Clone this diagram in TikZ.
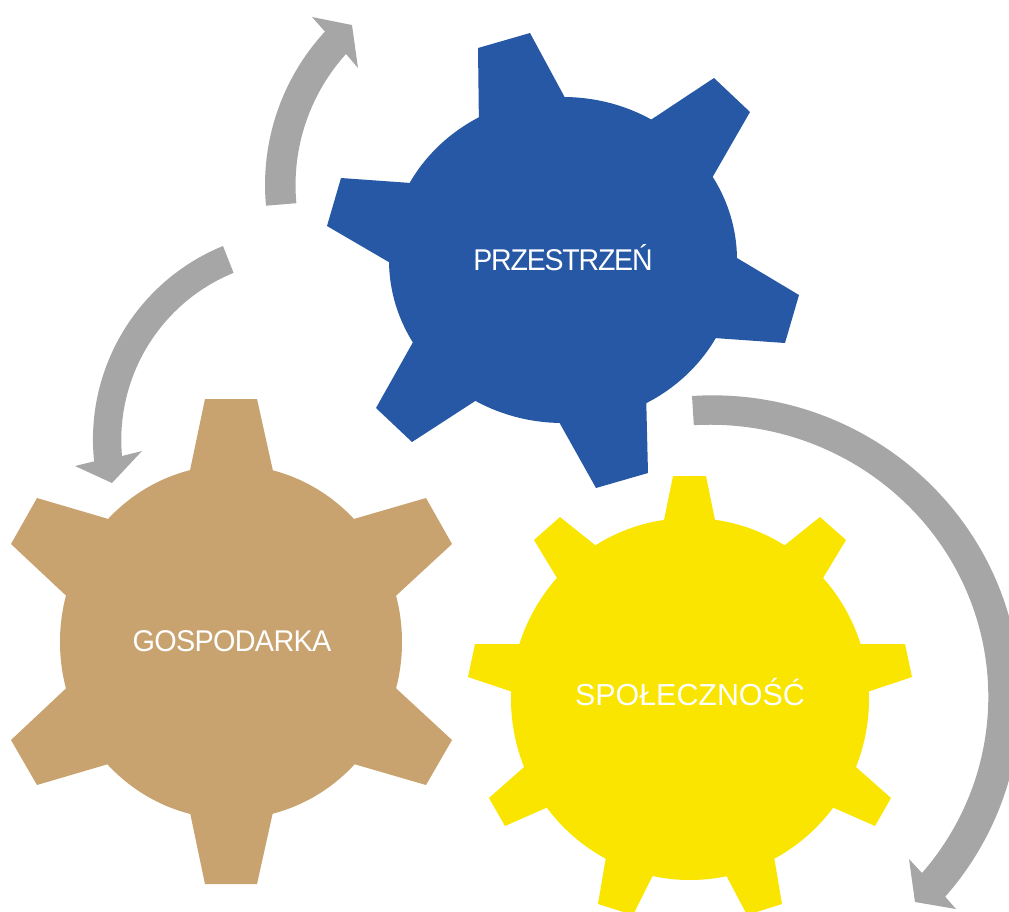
\documentclass[tikz,border=0pt]{standalone}
\usepackage{fontspec}
\setmainfont{Liberation Sans}
\newfontfamily\tightA[FakeStretch=0.95,LetterSpace=-4]{Liberation Sans}
\newfontfamily\tightB[FakeStretch=0.96,LetterSpace=-2.3]{Liberation Sans}
\definecolor{gblue}{HTML}{2758A5}
\definecolor{gtan}{HTML}{C8A26F}
\definecolor{gyellow}{HTML}{FAE500}
\definecolor{ggrey}{HTML}{A6A6A6}
\tikzset{
  gearlabel/.style={text=white,inner sep=0pt,anchor=base},
  cyclearrow/.style={fill=ggrey,draw=none}
}
\begin{document}
\begin{tikzpicture}[x=1pt,y=-1pt]
\useasboundingbox (0,0) rectangle (1009,911);
\clip (0,0) rectangle (1009,911);
% blue gear
\fill[gblue] (563,260) ellipse[x radius=174,y radius=163];
\foreach \t in {
  {(479,130)--(478,48)--(530,33)--(570,107)},
  {(640,127)--(714,78)--(750,112)--(708,185)},
  {(727,252)--(799,295)--(785,343)--(700,337)},
  {(646,391)--(648,473)--(596,488)--(554,413)},
  {(486,394)--(412,442)--(376,408)--(417,335)},
  {(399,268)--(327,226)--(341,178)--(425,184)}}
  {\fill[gblue] \t -- cycle;}
% tan gear
\fill[gtan] (231,642) ellipse[x radius=171,y radius=177];
\foreach \t in {
  {(188,480)--(205,399)--(257,399)--(275,480)},
  {(340,523)--(426,498)--(452,544)--(386,605)},
  {(386,679)--(452,740)--(426,785)--(340,760)},
  {(275,803)--(257,884)--(205,884)--(188,803)},
  {(122,760)--(37,785)--(11,740)--(76,679)},
  {(76,605)--(11,544)--(37,498)--(122,523)}}
  {\fill[gtan] \t -- cycle;}
% yellow gear
\fill[gyellow] (690,699) ellipse[x radius=179,y radius=181];
\foreach \t in {
  {(662,530)--(673,476)--(706,476)--(717,530)},
  {(775,553)--(820,517)--(846,540)--(817,588)},
  {(850,644)--(905,644)--(912,677)--(858,695)},
  {(848,760)--(891,798)--(875,826)--(825,804)},
  {(772,845)--(782,904)--(747,915)--(727,877)--(715,860)},
  {(665,860)--(652,877)--(633,915)--(598,904)--(608,845)},
  {(555,804)--(505,826)--(489,798)--(532,760)},
  {(522,695)--(468,677)--(475,644)--(530,644)},
  {(563,588)--(534,540)--(560,517)--(605,553)}}
  {\fill[gyellow] \t -- cycle;}
% arrows
\fill[cyclearrow] (266,205.7) arc[start angle=174.7,end angle=222.7,radius=226]
  -- (312,17) -- (352,25) -- (358,68) -- (346,54)
  arc[start angle=222.1,end angle=174.7,radius=195.6] -- cycle;
\fill[cyclearrow] (223,246) arc[start angle=247.8,end angle=174,radius=209]
  -- (75,466) -- (112,483) -- (142,451) -- (122,456)
  arc[start angle=174.9,end angle=247.8,radius=180.5] -- cycle;
\fill[cyclearrow] (692,396) arc[start angle=-93.8,end angle=40.9,x radius=308,y radius=303]
  -- (956,909) -- (915,902) -- (909,859) -- (922,873)
  arc[start angle=40.4,end angle=-93.4,x radius=278,y radius=272] -- cycle;
% labels
\node[gearlabel,font=\tightA\fontsize{30}{32}\selectfont] (przestrzen) at (563,270) {PRZESTRZEŃ};
\node[gearlabel,font=\tightB\fontsize{30}{32}\selectfont] (gospodarka) at (232,651.5) {GOSPODARKA};
\node[gearlabel,font=\fontsize{30.4}{32}\selectfont] (spolecznosc) at (690,705) {SPOŁECZNOŚĆ};
\end{tikzpicture}
\end{document}
